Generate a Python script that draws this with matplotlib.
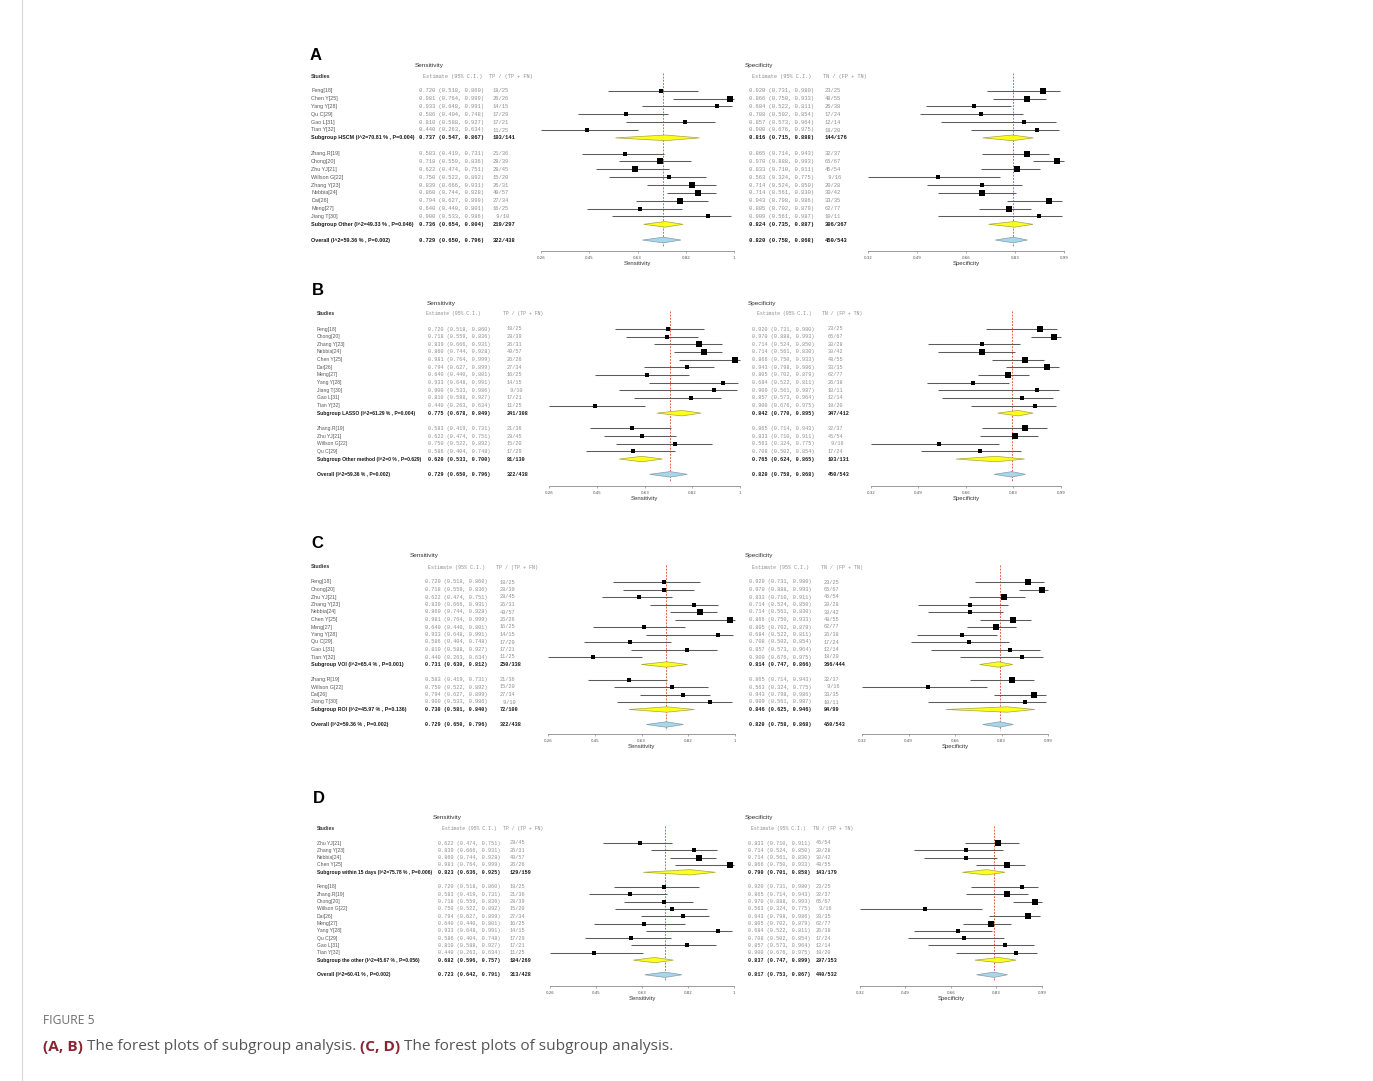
import matplotlib
matplotlib.use("Agg")
import matplotlib.pyplot as plt
from matplotlib.patches import Polygon
import numpy as np

# ---------------------------------------------------------------- data
studies = ["Feng[18]", "Zhang.R[19]", "Chong[20]", "Zhu YJ[21]", "Willson G[22]",
           "Zhang Y[23]", "Nebbia[24]", "Chen Y[25]", "Dai[26]", "Meng[27]",
           "Yang Y[28]", "Qu C[29]", "Jiang T[30]", "Gao L[31]", "Tian Y[32]"]
sens_est = [0.720, 0.583, 0.718, 0.622, 0.750, 0.839, 0.860, 0.981, 0.794, 0.640,
            0.933, 0.586, 0.900, 0.810, 0.440]
sens_lo = [0.518, 0.419, 0.559, 0.474, 0.522, 0.666, 0.744, 0.764, 0.627, 0.440,
           0.648, 0.404, 0.533, 0.588, 0.263]
sens_hi = [0.860, 0.731, 0.836, 0.751, 0.892, 0.931, 0.928, 0.999, 0.899, 0.801,
           0.991, 0.748, 0.986, 0.927, 0.634]
tp = [18, 21, 28, 28, 15, 26, 49, 26, 27, 16, 14, 17, 9, 17, 11]
n_pos = [25, 36, 39, 45, 20, 31, 57, 26, 34, 25, 15, 29, 10, 21, 25]
spec_est = [0.920, 0.865, 0.970, 0.833, 0.563, 0.714, 0.714, 0.866, 0.943, 0.805,
            0.684, 0.708, 0.909, 0.857, 0.900]
spec_lo = [0.731, 0.714, 0.888, 0.710, 0.324, 0.524, 0.561, 0.750, 0.798, 0.702,
           0.522, 0.502, 0.561, 0.573, 0.676]
spec_hi = [0.980, 0.943, 0.993, 0.911, 0.775, 0.850, 0.830, 0.933, 0.986, 0.879,
           0.811, 0.854, 0.987, 0.964, 0.975]
tn = [23, 32, 65, 45, 9, 20, 30, 48, 33, 62, 26, 17, 10, 12, 18]
n_neg = [25, 37, 67, 54, 16, 28, 42, 55, 35, 77, 38, 24, 11, 14, 20]

# subgroup memberships (panel A-D)
groups_A = [["Feng[18]", "Chen Y[25]", "Yang Y[28]", "Qu C[29]", "Gao L[31]", "Tian Y[32]"],
            ["Zhang.R[19]", "Chong[20]", "Zhu YJ[21]", "Willson G[22]", "Zhang Y[23]",
             "Nebbia[24]", "Dai[26]", "Meng[27]", "Jiang T[30]"]]
groups_B = [["Feng[18]", "Chong[20]", "Zhang Y[23]", "Nebbia[24]", "Chen Y[25]", "Dai[26]",
             "Meng[27]", "Yang Y[28]", "Jiang T[30]", "Gao L[31]", "Tian Y[32]"],
            ["Zhang.R[19]", "Zhu YJ[21]", "Willson G[22]", "Qu C[29]"]]
groups_C = [["Feng[18]", "Chong[20]", "Zhu YJ[21]", "Zhang Y[23]", "Nebbia[24]", "Chen Y[25]",
             "Meng[27]", "Yang Y[28]", "Qu C[29]", "Gao L[31]", "Tian Y[32]"],
            ["Zhang.R[19]", "Willson G[22]", "Dai[26]", "Jiang T[30]"]]
groups_D = [["Zhu YJ[21]", "Zhang Y[23]", "Nebbia[24]", "Chen Y[25]"],
            ["Feng[18]", "Zhang.R[19]", "Chong[20]", "Willson G[22]", "Dai[26]", "Meng[27]",
             "Yang Y[28]", "Qu C[29]", "Gao L[31]", "Tian Y[32]"]]

sub_labels_A = ["Subgroup HSCM (I^2=70.81 % , P=0.004)", "Subgroup Other (I^2=49.33 % , P=0.046)"]
sub_labels_B = ["Subgroup LASSO (I^2=61.29 % , P=0.004)", "Subgroup Other method (I^2=0 % , P=0.629)"]
sub_labels_C = ["Subgroup VOI (I^2=65.4 % , P=0.001)", "Subgroup ROI (I^2=45.97 % , P=0.136)"]
sub_labels_D = ["Subgroup within 15 days (I^2=75.78 % , P=0.006)", "Subgroup the other (I^2=45.67 % , P=0.056)"]
overall_labels = ["Overall (I^2=59.36 % , P=0.002)"] * 3 + ["Overall (I^2=60.41 % , P=0.002)"]

# pooled sensitivity / specificity: estimate, lower, upper, count (subgroup 1, subgroup 2, overall)
sens_pool_A = [(0.737, 0.547, 0.867, "103/141"), (0.736, 0.654, 0.804, "219/297"), (0.729, 0.650, 0.796, "322/438")]
sens_pool_B = [(0.775, 0.678, 0.849, "241/308"), (0.620, 0.533, 0.700, "81/130"), (0.729, 0.650, 0.796, "322/438")]
sens_pool_C = [(0.731, 0.630, 0.812, "250/338"), (0.730, 0.581, 0.840, "72/100"), (0.729, 0.650, 0.796, "322/438")]
sens_pool_D = [(0.823, 0.636, 0.925, "129/159"), (0.682, 0.596, 0.757, "184/269"), (0.723, 0.642, 0.791, "313/428")]
spec_pool_A = [(0.816, 0.715, 0.888, "144/176"), (0.824, 0.735, 0.887, "306/367"), (0.820, 0.758, 0.868, "450/543")]
spec_pool_B = [(0.842, 0.770, 0.895, "347/412"), (0.765, 0.624, 0.865, "103/131"), (0.820, 0.758, 0.868, "450/543")]
spec_pool_C = [(0.814, 0.747, 0.866, "366/444"), (0.846, 0.625, 0.946, "84/99"), (0.820, 0.758, 0.868, "450/543")]
spec_pool_D = [(0.790, 0.701, 0.858, "143/179"), (0.837, 0.747, 0.899, "297/353"), (0.817, 0.753, 0.867, "440/532")]

panel_letters = ["A", "B", "C", "D"]

# ---------------------------------------------------------------- layout (pixels)
W, H, DPI = 1373, 1081, 100
layouts = [
    dict(letter=(310, 60), title_y=65, hdr_y=76.7, row0=90.7, dy=7.86,
         x_study=311, x_title=415, x_est=419.3, x_est_hdr=422.7, x_cnt=493, x_cnt_hdr=489,
         sx=(540.8, 734.3), axis_y=251, lab_w=104.0, est_w=66.7,
         x_title2=745, x_est2=749, x_est_hdr2=751.7, x_cnt2=825, x_cnt_hdr2=823.3,
         px=(868.3, 1064)),
    dict(letter=(311.7, 295), title_y=303.3, hdr_y=313.7, row0=329, dy=7.65,
         x_study=316.7, x_title=426.7, x_est=428.3, x_est_hdr=426, x_cnt=506.7, x_cnt_hdr=502.7,
         sx=(549.3, 740), axis_y=486, lab_w=103.3, est_w=62.3,
         x_title2=747.7, x_est2=752.3, x_est_hdr2=756.7, x_cnt2=827.7, x_cnt_hdr2=822.3,
         px=(870.7, 1061)),
    dict(letter=(311, 548), title_y=556, hdr_y=567, row0=582, dy=7.5,
         x_study=311, x_title=410, x_est=425, x_est_hdr=428, x_cnt=500, x_cnt_hdr=496,
         sx=(548, 735), axis_y=734, lab_w=92.0, est_w=63.0,
         x_title2=745, x_est2=749, x_est_hdr2=752, x_cnt2=824, x_cnt_hdr2=821,
         px=(862, 1048)),
    dict(letter=(312.7, 803.3), title_y=817.7, hdr_y=828.7, row0=843, dy=7.32,
         x_study=316.7, x_title=433, x_est=437.7, x_est_hdr=441.7, x_cnt=510, x_cnt_hdr=503.3,
         sx=(550, 734), axis_y=985.7, lab_w=116.7, est_w=61.3,
         x_title2=745, x_est2=747.7, x_est_hdr2=751, x_cnt2=815.7, x_cnt_hdr2=813,
         px=(860, 1041.7)),
]
# label whose width sets the text size of each panel
width_ref_labels = [sub_labels_A[0], sub_labels_B[1], sub_labels_C[0], sub_labels_D[0]]

SANS = "Liberation Sans"
MONO = "Liberation Mono"
C_STUDY = "#5a5a5a"
C_EST = "#8e8e8e"
C_BOLD = "#1a1a1a"
C_LINE = "#5c5c5c"
C_RED = "#e0452f"

fig = plt.figure(figsize=(W / DPI, H / DPI), dpi=DPI)
bg = fig.add_axes([0, 0, 1, 1])
bg.set_xlim(0, W)
bg.set_ylim(H, 0)
bg.axis("off")
fig.canvas.draw()
renderer = fig.canvas.get_renderer()

# light frame on the left edge
bg.plot([22, 22], [0, H], color="#d9d9d9", lw=0.8)

idx = {s: i for i, s in enumerate(studies)}
sens_min, sens_max = min(sens_lo), max(sens_hi)
spec_min, spec_max = min(spec_lo), max(spec_hi)


def fit_size(text, family, weight, target_px, base=10.0):
    t = bg.text(0, 0, text, fontsize=base, family=family, weight=weight)
    w = t.get_window_extent(renderer=renderer).width
    t.remove()
    return base * target_px / w


def fmt_tick(v):
    return ("%.2f" % v).rstrip("0").rstrip(".")


def px_rect(x0, x1, ytop, ybot):
    return [x0 / W, 1 - ybot / H, (x1 - x0) / W, (ybot - ytop) / H]


def box_side(lo, hi, scale):
    return max(2.5, (7.6 - 9.3 * (hi - lo)) * scale)


def draw_forest(L, rows, xr, xmin, xmax, overall_val, label):
    dy, row0, axis_y = L["dy"], L["row0"], L["axis_y"]
    top_rows = 3.0
    bottom_rows = (axis_y - row0) / dy
    ax = fig.add_axes(px_rect(xr[0], xr[1], row0 - top_rows * dy, axis_y))
    ax.set_xlim(xmin, xmax)
    ax.set_ylim(bottom_rows, -top_rows)
    ax.patch.set_alpha(0)
    for sp in ["top", "left", "right"]:
        ax.spines[sp].set_visible(False)
    ax.spines["bottom"].set_color("#8a8a8a")
    ax.spines["bottom"].set_linewidth(0.6)
    ticks = np.linspace(xmin, xmax, 5)
    ax.set_xticks(ticks)
    ax.set_xticklabels([fmt_tick(t) for t in ticks])
    ax.set_yticks([])
    ax.tick_params(axis="x", length=1.6, width=0.5, color="#8a8a8a", pad=2.0,
                   labelsize=2.9, labelcolor="#555555")
    ax.set_xlabel(label, fontsize=4.3, labelpad=0.6, color="#333333", family=SANS)
    scale = (xr[1] - xr[0]) / 194.0
    ax.plot([overall_val, overall_val], [-2.3, bottom_rows - 0.6], color=C_RED,
            lw=0.6, ls=(0, (2.2, 1.6)), zorder=1)
    for r, kind, est, lo, hi in rows:
        if kind == "study":
            ax.plot([lo, hi], [r, r], color=C_LINE, lw=0.75, zorder=2, clip_on=False,
                    solid_capstyle="butt")
            side_pt = box_side(lo, hi, scale) * 72.0 / DPI
            ax.scatter([est], [r], marker="s", s=side_pt ** 2, color="black",
                       linewidths=0, zorder=3, clip_on=False)
        else:
            face, edge = ("#ffff1a", "#a6a640") if kind == "sub" else ("#a9d6e8", "#7f9fae")
            h = 0.36
            ax.add_patch(Polygon([(lo, r), (est, r - h), (hi, r), (est, r + h)],
                                 closed=True, facecolor=face, edgecolor=edge, lw=0.5,
                                 zorder=3, clip_on=False))
    return ax


all_groups = [groups_A, groups_B, groups_C, groups_D]
all_sub = [sub_labels_A, sub_labels_B, sub_labels_C, sub_labels_D]
all_sens_pool = [sens_pool_A, sens_pool_B, sens_pool_C, sens_pool_D]
all_spec_pool = [spec_pool_A, spec_pool_B, spec_pool_C, spec_pool_D]

for p in range(4):
    L = layouts[p]
    groups, subl = all_groups[p], all_sub[p]
    spool, cpool = all_sens_pool[p], all_spec_pool[p]
    fs_sans = fit_size(width_ref_labels[p], SANS, "bold", L["lab_w"])
    fs_mono = fit_size("0.720 (0.518, 0.860)", MONO, "normal", L["est_w"])
    fs_hdr = fs_mono * 0.95

    # letter and headings
    bg.text(L["letter"][0], L["letter"][1], panel_letters[p], fontsize=12, weight="bold",
            family=SANS, ha="left", va="baseline", color="black")
    bg.text(L["x_title"], L["title_y"], "Sensitivity", fontsize=4.6, family=SANS,
            ha="left", va="center", color="#333333")
    bg.text(L["x_title2"], L["title_y"], "Specificity", fontsize=4.6, family=SANS,
            ha="left", va="center", color="#333333")
    bg.text(L["x_study"], L["hdr_y"], "Studies", fontsize=fs_sans, weight="bold",
            family=SANS, ha="left", va="center", color="#333333")
    for xk, txt in [("x_est_hdr", "Estimate (95% C.I.)"), ("x_cnt_hdr", "TP / (TP + FN)"),
                    ("x_est_hdr2", "Estimate (95% C.I.)"), ("x_cnt_hdr2", "TN / (FP + TN)")]:
        bg.text(L[xk], L["hdr_y"], txt, fontsize=fs_hdr, family=MONO, ha="left",
                va="center", color=C_EST)

    sens_rows, spec_rows = [], []
    r = 0
    pooled_rows = []
    for g in range(2):
        for s in groups[g]:
            i = idx[s]
            y = L["row0"] + r * L["dy"]
            bg.text(L["x_study"], y, s, fontsize=fs_sans, family=SANS, ha="left",
                    va="center", color=C_STUDY)
            bg.text(L["x_est"], y, "%.3f (%.3f, %.3f)" % (sens_est[i], sens_lo[i], sens_hi[i]),
                    fontsize=fs_mono, family=MONO, ha="left", va="center", color=C_EST)
            bg.text(L["x_cnt"], y, "%5s" % ("%d/%d" % (tp[i], n_pos[i])), fontsize=fs_mono,
                    family=MONO, ha="left", va="center", color=C_EST)
            bg.text(L["x_est2"], y, "%.3f (%.3f, %.3f)" % (spec_est[i], spec_lo[i], spec_hi[i]),
                    fontsize=fs_mono, family=MONO, ha="left", va="center", color=C_EST)
            bg.text(L["x_cnt2"], y, "%5s" % ("%d/%d" % (tn[i], n_neg[i])), fontsize=fs_mono,
                    family=MONO, ha="left", va="center", color=C_EST)
            sens_rows.append((r, "study", sens_est[i], sens_lo[i], sens_hi[i]))
            spec_rows.append((r, "study", spec_est[i], spec_lo[i], spec_hi[i]))
            r += 1
        pooled_rows.append((r, subl[g], g, "sub"))
        r += 2
    pooled_rows.append((r, overall_labels[p], 2, "all"))

    for rr, lab, k, kind in pooled_rows:
        y = L["row0"] + rr * L["dy"]
        se, sl, sh, sc = spool[k]
        ce, cl, ch, cc = cpool[k]
        bg.text(L["x_study"], y, lab, fontsize=fs_sans, weight="bold", family=SANS,
                ha="left", va="center", color=C_BOLD)
        for xk, txt in [("x_est", "%.3f (%.3f, %.3f)" % (se, sl, sh)), ("x_cnt", sc),
                        ("x_est2", "%.3f (%.3f, %.3f)" % (ce, cl, ch)), ("x_cnt2", cc)]:
            bg.text(L[xk], y, txt, fontsize=fs_mono, weight="bold", family=MONO,
                    ha="left", va="center", color=C_BOLD)
        sens_rows.append((rr, kind, se, sl, sh))
        spec_rows.append((rr, kind, ce, cl, ch))

    draw_forest(L, sens_rows, L["sx"], sens_min, sens_max, spool[2][0], "Sensitivity")
    draw_forest(L, spec_rows, L["px"], spec_min, spec_max, cpool[2][0], "Specificity")

# ---------------------------------------------------------------- caption
CAP_FONT = "Open Sans"
bg.text(43, 1021, "FIGURE 5", fontsize=8.7, family=CAP_FONT, color="#6d6d6d",
        ha="left", va="center")
pieces = [("(A, B)", True), (" The forest plots of subgroup analysis. ", False),
          ("(C, D)", True), (" The forest plots of subgroup analysis.", False)]
x = 43
for txt, bold in pieces:
    t = bg.text(x, 1047, txt, fontsize=11.1, family=CAP_FONT,
                weight="bold" if bold else "normal",
                color="#8b2331" if bold else "#555555", ha="left", va="center")
    x += t.get_window_extent(renderer=renderer).width

fig.savefig("out.png", dpi=DPI)
